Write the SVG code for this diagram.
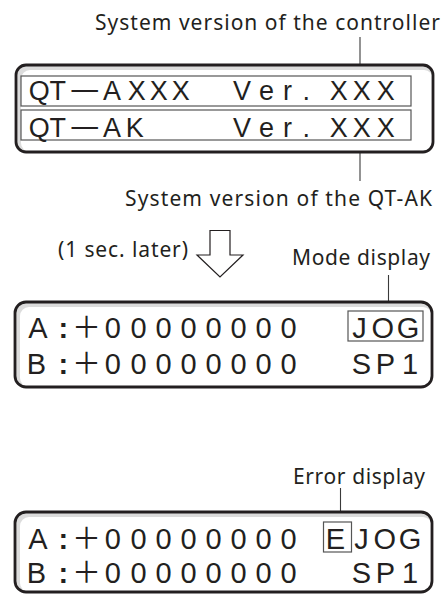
<svg xmlns="http://www.w3.org/2000/svg" width="448" height="594" viewBox="0 0 448 594">
<style>
.bg{fill:#ffffff}
.band{fill:#dcdcdc}
.face{fill:#ffffff}
.frame{fill:none;stroke:#231f20;stroke-width:2.8}
.cell{fill:none;stroke:#555555;stroke-width:1.2}
.lcd{font-family:"Liberation Sans",Arial,sans-serif;fill:#231f20}
.top{font-size:27px}
.low{font-size:29px}
.cjk{font-family:"Noto Sans CJK JP",sans-serif}
.dash{font-size:33px}
.colon{font-weight:bold}
.label{font-family:"Noto Sans","Liberation Sans",sans-serif;font-size:21px;fill:#231f20}
.leader{stroke:#3a3a3a;stroke-width:1.1;fill:none}
.arrow{fill:#ffffff;stroke:#231f20;stroke-width:1.2;stroke-linejoin:miter}
</style>
<rect class="bg" x="0" y="0" width="448" height="594"/>

<g id="connectors">
  <line class="leader" x1="360" y1="37" x2="360" y2="76"/>
  <line class="leader" x1="360" y1="140" x2="360" y2="181"/>
  <line class="leader" x1="388.5" y1="275" x2="388.5" y2="311"/>
  <line class="leader" x1="340.5" y1="488" x2="340.5" y2="522"/>
</g>

<g id="label-controller">
  <text class="label" x="95" y="29.5" textLength="345" lengthAdjust="spacing">System version of the controller</text>
</g>

<g id="lcd-version">
  <rect class="band" x="16" y="65" width="417" height="87" rx="10"/>
  <rect class="face" x="21" y="70" width="412" height="82" rx="9"/>
  <rect class="cell" x="21" y="76" width="390" height="30"/>
  <rect class="cell" x="21" y="110" width="390" height="30"/>
  <rect class="frame" x="16" y="65" width="417" height="87" rx="10"/>
  <text class="lcd top" y="100"><tspan x="28.7 49.4">QT</tspan><tspan class="cjk dash" x="70">—</tspan><tspan x="103 127.7 149.7 171.7 200 233 258.9 283 302.4 318 329.7 352.7 376.7">AXXX Ver. XXX</tspan></text>
  <text class="lcd top" y="136.5"><tspan x="28.7 49.4">QT</tspan><tspan class="cjk dash" x="70">—</tspan><tspan x="103 125.8 200 233 258.9 283 302.4 318 329.7 352.7 376.7">AK Ver. XXX</tspan></text>
</g>

<g id="label-qtak">
  <text class="label" x="125" y="206" textLength="307" lengthAdjust="spacing">System version of the QT-AK</text>
</g>

<g id="step-arrow">
  <path class="arrow" d="M210,230.5 H230 V255 H243 L220,277 L197,255 H210 Z"/>
  <text class="label" x="58" y="257" textLength="130" lengthAdjust="spacing">(1 sec. later)</text>
</g>

<g id="label-mode">
  <text class="label" x="292" y="265" textLength="138" lengthAdjust="spacing">Mode display</text>
</g>

<g id="lcd-mode">
  <rect class="band" x="15" y="302" width="417" height="85" rx="11"/>
  <rect class="face" x="20" y="307" width="412" height="80" rx="9"/>
  <rect class="cell" x="348" y="311" width="75" height="30"/>
  <rect class="frame" x="15" y="302" width="417" height="85" rx="11"/>
  <text class="lcd low" y="338"><tspan x="28.3">A</tspan><tspan class="colon" x="58.5">:</tspan><tspan class="cjk" x="72">＋</tspan><tspan x="104.8 130.5 155.5 180.5 205.5 230.5 255.5 280.5 330 352.2 371.6 396.7">00000000 JOG</tspan></text>
  <text class="lcd low" y="374"><tspan x="26.7">B</tspan><tspan class="colon" x="58.5">:</tspan><tspan class="cjk" x="72">＋</tspan><tspan x="104.8 130.5 155.5 180.5 205.5 230.5 255.5 280.5 330 351.7 375.8 402">00000000 SP1</tspan></text>
</g>

<g id="label-error">
  <text class="label" x="293" y="484" textLength="132" lengthAdjust="spacing">Error display</text>
</g>

<g id="lcd-error">
  <rect class="band" x="15" y="512" width="417" height="80" rx="11"/>
  <rect class="face" x="20" y="517" width="412" height="75" rx="9"/>
  <rect class="cell" x="323.5" y="522" width="28" height="30"/>
  <rect class="frame" x="15" y="512" width="417" height="80" rx="11"/>
  <text class="lcd low" y="549"><tspan x="28.3">A</tspan><tspan class="colon" x="58.5">:</tspan><tspan class="cjk" x="72">＋</tspan><tspan x="104.8 130.5 155.5 180.5 205.5 230.5 255.5 280.5 310 325.8 354.2 373.6 398.7">00000000 EJOG</tspan></text>
  <text class="lcd low" y="583"><tspan x="26.7">B</tspan><tspan class="colon" x="58.5">:</tspan><tspan class="cjk" x="72">＋</tspan><tspan x="104.8 130.5 155.5 180.5 205.5 230.5 255.5 280.5 330 351.7 375.8 402">00000000 SP1</tspan></text>
</g>
</svg>
